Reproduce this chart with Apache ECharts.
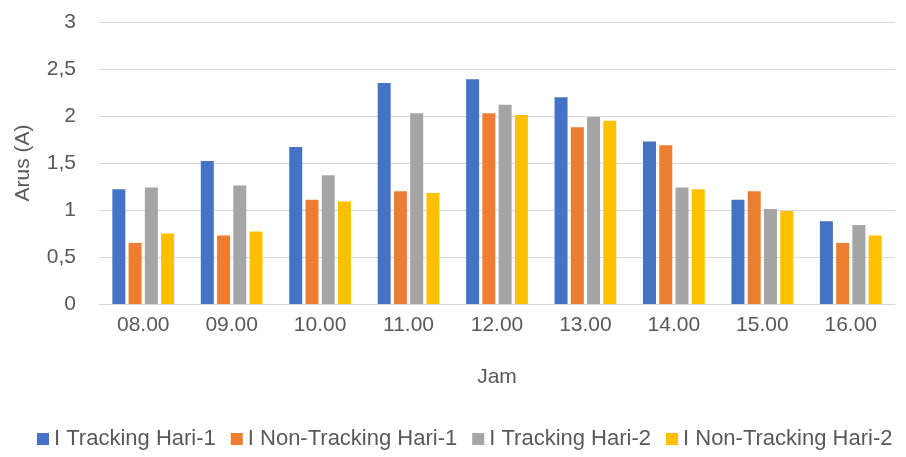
<!DOCTYPE html>
<html>
<head>
<meta charset="utf-8">
<script src="https://cdn.jsdelivr.net/npm/echarts@6/dist/echarts.min.js"></script>
<style>
  html, body { margin: 0; padding: 0; background: #fff; }
  #main { width: 906px; height: 457px; }
</style>
</head>
<body>
<div id="main"></div>
<script>
const jam = ['08.00', '09.00', '10.00', '11.00', '12.00', '13.00', '14.00', '15.00', '16.00']
const trackingHari1 = [1.22, 1.52, 1.67, 2.35, 2.39, 2.20, 1.73, 1.11, 0.88]
const nonTrackingHari1 = [0.65, 0.73, 1.11, 1.20, 2.03, 1.88, 1.69, 1.20, 0.65]
const trackingHari2 = [1.24, 1.26, 1.37, 2.03, 2.12, 1.99, 1.24, 1.01, 0.84]
const nonTrackingHari2 = [0.75, 0.77, 1.09, 1.18, 2.01, 1.95, 1.22, 0.99, 0.73]

const font = 'Liberation Sans'
const textColor = '#595959'

const seriesDefs = [
  ['I Tracking Hari-1', trackingHari1, '#4472C4'],
  ['I Non-Tracking Hari-1', nonTrackingHari1, '#ED7D31'],
  ['I Tracking Hari-2', trackingHari2, '#A5A5A5'],
  ['I Non-Tracking Hari-2', nonTrackingHari2, '#FFC000']
]

const series = seriesDefs.map(([name, data, color]) => ({
  name: name,
  type: 'bar',
  data: data,
  barWidth: 13,
  barGap: '25%',
  itemStyle: { color: color }
}))

const chart = echarts.init(document.getElementById('main'))
chart.setOption({
  animation: false,
  textStyle: { fontFamily: font },
  grid: { left: 99, right: 11, top: 22, bottom: 153 },
  legend: {
    bottom: 2,
    left: 32,
    itemWidth: 12,
    itemHeight: 12,
    itemGap: 15,
    icon: 'rect',
    textStyle: { color: textColor, fontSize: 22, fontFamily: font }
  },
  xAxis: {
    type: 'category',
    data: jam,
    name: 'Jam',
    nameLocation: 'middle',
    nameGap: 63,
    nameTextStyle: { color: textColor, fontSize: 21 },
    axisLine: { lineStyle: { color: '#d9d9d9' } },
    axisTick: { show: false },
    axisLabel: { color: textColor, fontSize: 21, margin: 11 }
  },
  yAxis: {
    type: 'value',
    min: 0,
    max: 3,
    interval: 0.5,
    name: 'Arus (A)',
    nameLocation: 'middle',
    nameGap: 65,
    nameTextStyle: { color: textColor, fontSize: 21 },
    axisLine: { show: false },
    axisTick: { show: false },
    splitLine: { lineStyle: { color: '#d9d9d9' } },
    axisLabel: {
      color: textColor,
      fontSize: 21,
      margin: 23,
      formatter: v => String(v).replace('.', ',')
    }
  },
  series: series
})
</script>
</body>
</html>
